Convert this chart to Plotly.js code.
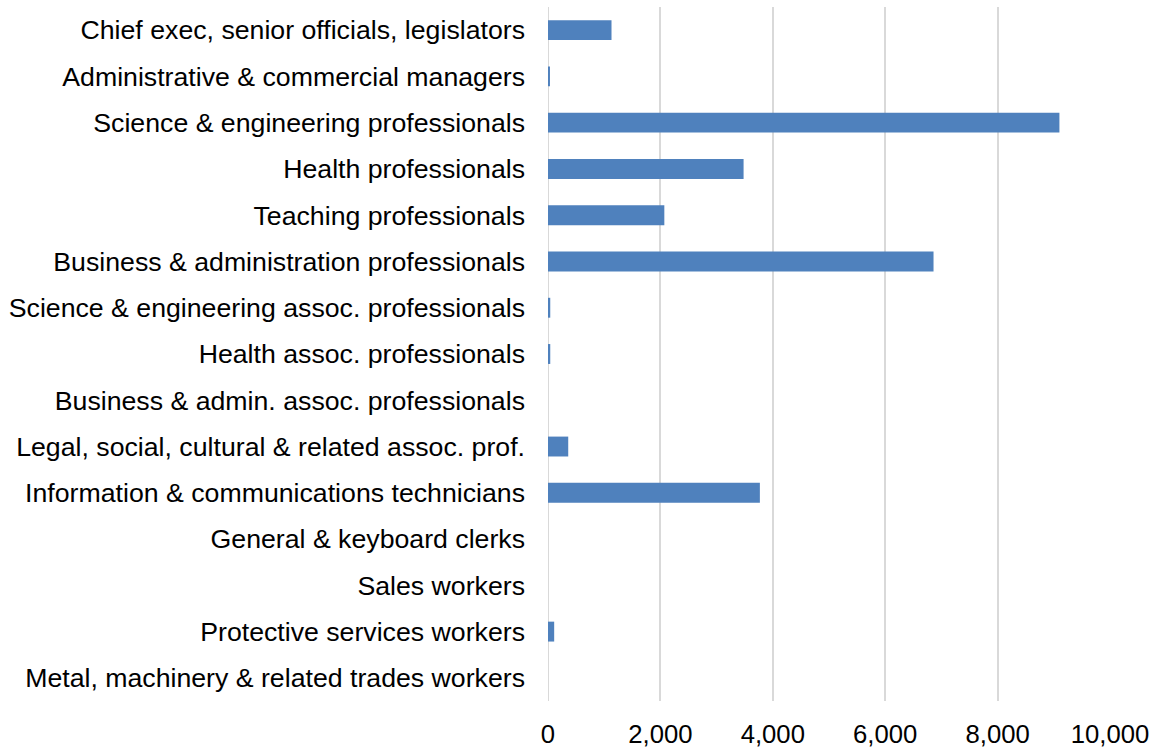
<!DOCTYPE html>
<html>
<head>
<meta charset="utf-8">
<script src="https://cdn.plot.ly/plotly-3.0.1.min.js"></script>
<style>
  html, body { margin: 0; padding: 0; background: #ffffff; }
  #chart { width: 1161px; height: 749px; }
</style>
</head>
<body>
<div id="chart"></div>
<script>
const categories = [
  "Chief exec, senior officials, legislators",
  "Administrative & commercial managers",
  "Science & engineering professionals",
  "Health professionals",
  "Teaching professionals",
  "Business & administration professionals",
  "Science & engineering assoc. professionals",
  "Health assoc. professionals",
  "Business & admin. assoc. professionals",
  "Legal, social, cultural & related assoc. prof.",
  "Information & communications technicians",
  "General & keyboard clerks",
  "Sales workers",
  "Protective services workers",
  "Metal, machinery & related trades workers"
];
const values = [1130, 35, 9100, 3480, 2070, 6860, 40, 40, 0, 360, 3770, 0, 0, 110, 0];
const tickValues = [0, 2000, 4000, 6000, 8000, 10000];
const tickLabels = ["0", "2,000", "4,000", "6,000", "8,000", "10,000"];

const trace = {
  type: "bar",
  orientation: "h",
  x: values,
  y: categories,
  marker: { color: "#4f81bd", line: { width: 0 } },
  hoverinfo: "x+y"
};

const layout = {
  width: 1161,
  height: 749,
  margin: { l: 548, r: 51, t: 7, b: 48, pad: 0 },
  paper_bgcolor: "#ffffff",
  plot_bgcolor: "#ffffff",
  showlegend: false,
  bargap: 0.57,
  font: { family: "Liberation Sans, Arial, sans-serif", size: 26, color: "#000000" },
  xaxis: {
    range: [0, 10000],
    tickvals: tickValues,
    ticktext: tickLabels,
    showgrid: true,
    gridcolor: "#d9d9d9",
    gridwidth: 2,
    zeroline: false,
    showline: false,
    ticks: "",
    ticklabelstandoff: 15,
    tickfont: { size: 25.7, color: "#000000" },
    fixedrange: true
  },
  yaxis: {
    type: "category",
    autorange: "reversed",
    showgrid: false,
    zeroline: false,
    showline: false,
    ticks: "",
    ticklabelstandoff: 22,
    tickfont: { size: 26.7, color: "#000000" },
    fixedrange: true
  },
  shapes: [{
    type: "line", xref: "x", yref: "paper",
    x0: 0, x1: 0, y0: 0, y1: 1,
    line: { color: "#d9d9d9", width: 2 },
    layer: "below"
  }]
};

Plotly.newPlot("chart", [trace], layout, { displayModeBar: false, staticPlot: true });
</script>
</body>
</html>
